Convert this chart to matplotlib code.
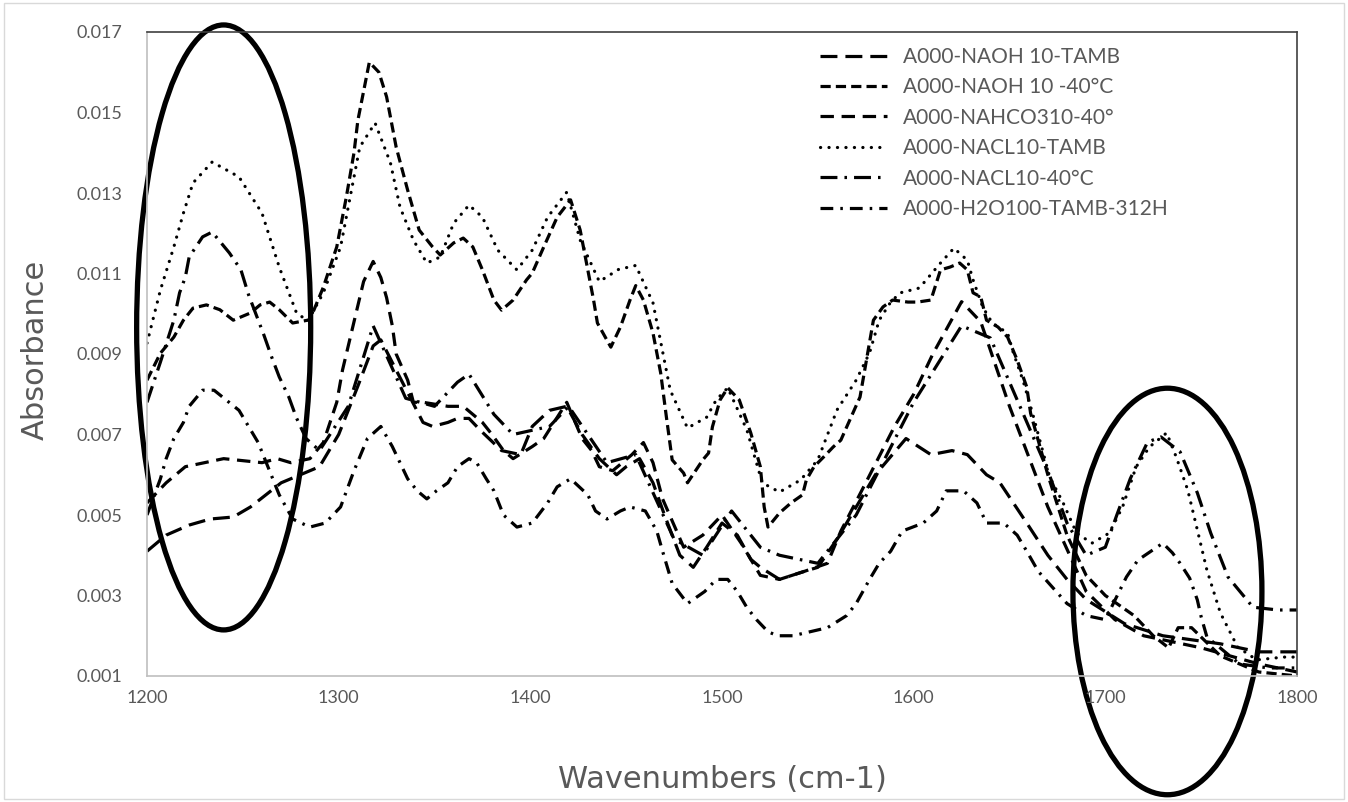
import matplotlib
matplotlib.use("Agg")
import matplotlib.pyplot as plt
from matplotlib.patches import Ellipse, Rectangle

# series (wavenumber, absorbance)
labels = ["A000-NAOH 10-TAMB", "A000-NAOH 10 -40°C", "A000-NAHCO310-40°",
          "A000-NACL10-TAMB", "A000-NACL10-40°C", "A000-H2O100-TAMB-312H"]

naoh_tamb_x = [1200, 1210, 1222, 1233, 1245, 1254, 1262, 1270, 1280, 1290, 1300, 1310, 1318, 1322, 1330,
               1344, 1349, 1357, 1362, 1368, 1374, 1385, 1395, 1401, 1410, 1419, 1427, 1436, 1445, 1450,
               1457, 1464, 1470, 1478, 1485, 1492, 1500, 1508, 1515, 1520, 1530, 1543, 1550, 1560, 1570,
               1580, 1596, 1609, 1620, 1628, 1638, 1645, 1652, 1659, 1670, 1680, 1690, 1700, 1710, 1730,
               1760, 1780, 1800]
naoh_tamb_y = [0.0041, 0.0045, 0.00475, 0.0049, 0.00495, 0.0052, 0.0055, 0.0058, 0.0060, 0.0062, 0.0070,
               0.0082, 0.0092, 0.00935, 0.0086, 0.0073, 0.0072, 0.0073, 0.0074, 0.0074, 0.0071, 0.0066,
               0.0065, 0.0072, 0.0076, 0.0077, 0.0070, 0.0064, 0.0060, 0.0062, 0.0064, 0.0058, 0.0050,
               0.0040, 0.0037, 0.0042, 0.0048, 0.0045, 0.0039, 0.0037, 0.0034, 0.0036, 0.0037, 0.0044,
               0.0052, 0.0060, 0.0069, 0.0065, 0.0066, 0.0065, 0.0060, 0.0058, 0.0053, 0.0048, 0.0040,
               0.0034, 0.0029, 0.0026, 0.0023, 0.0020, 0.0018, 0.0016, 0.0016]

naoh_40_x = [1200, 1207, 1214, 1219, 1224, 1231, 1238, 1245, 1254, 1259, 1264, 1269, 1276, 1285, 1292,
             1299, 1304, 1308, 1310, 1316, 1321, 1325, 1330, 1336, 1342, 1349, 1353, 1360, 1365, 1370,
             1375, 1381, 1385, 1391, 1398, 1401, 1407, 1414, 1421, 1426, 1433, 1435, 1442, 1447, 1452,
             1455, 1459, 1464, 1468, 1471, 1474, 1480, 1482, 1490, 1493, 1495, 1499, 1503, 1509, 1515,
             1520, 1522, 1524, 1530, 1536, 1542, 1544, 1548, 1553, 1558, 1562, 1572, 1579, 1584, 1589,
             1597, 1602, 1609, 1614, 1619, 1624, 1628, 1631, 1635, 1638, 1644, 1649, 1654, 1659, 1661,
             1670, 1680, 1690, 1700, 1715, 1725, 1733, 1738, 1745, 1760, 1780, 1800]
naoh_40_y = [0.00835, 0.00902, 0.00942, 0.00984, 0.01014, 0.01022, 0.0101, 0.00984, 0.01002, 0.01022,
             0.01029, 0.0101, 0.00977, 0.00985, 0.01066, 0.01166, 0.0129, 0.0140, 0.0148, 0.01625,
             0.0160, 0.01539, 0.01414, 0.01307, 0.01208, 0.01166, 0.01146, 0.01176, 0.01188, 0.01166,
             0.01109, 0.01034, 0.01009, 0.01034, 0.01084, 0.01101, 0.01166, 0.0124, 0.01283, 0.01208,
             0.01034, 0.00977, 0.00917, 0.00967, 0.01034, 0.0107, 0.01034, 0.00952, 0.00853, 0.00743,
             0.00637, 0.00604, 0.0058, 0.00637, 0.00654, 0.00719, 0.00786, 0.00816, 0.00786, 0.00704,
             0.0062, 0.0052, 0.0047, 0.00505, 0.0053, 0.0055, 0.00587, 0.0062, 0.00644, 0.00669,
             0.00686, 0.00793, 0.00984, 0.01017, 0.01034, 0.01029, 0.01029, 0.01034, 0.01109, 0.01116,
             0.01126, 0.01109, 0.01052, 0.01042, 0.00984, 0.00967, 0.00942, 0.00885, 0.00818, 0.00753,
             0.0060, 0.0045, 0.0035, 0.0030, 0.0025, 0.0020, 0.0017, 0.0022, 0.0022, 0.0015, 0.0011, 0.0010]

nahco3_x = [1200, 1210, 1220, 1240, 1260, 1268, 1275, 1285, 1292, 1299, 1302, 1306, 1310, 1313, 1318,
            1322, 1325, 1328, 1330, 1336, 1339, 1344, 1357, 1365, 1375, 1380, 1386, 1391, 1401, 1407,
            1419, 1427, 1432, 1436, 1443, 1453, 1459, 1464, 1469, 1480, 1490, 1500, 1510, 1520, 1530,
            1543, 1555, 1562, 1575, 1590, 1600, 1610, 1625, 1635, 1650, 1670, 1690, 1705, 1720, 1750,
            1780, 1800]
nahco3_y = [0.0053, 0.0058, 0.0062, 0.0064, 0.0063, 0.0064, 0.0063, 0.0064, 0.0068, 0.0078, 0.0086,
            0.0094, 0.0102, 0.0108, 0.0113, 0.0109, 0.0104, 0.0097, 0.0090, 0.00835, 0.0078, 0.0078,
            0.0077, 0.0077, 0.0073, 0.0070, 0.0066, 0.0064, 0.0067, 0.0069, 0.0078, 0.0069, 0.0066,
            0.0062, 0.0061, 0.0065, 0.0068, 0.0063, 0.0054, 0.0042, 0.0045, 0.0050, 0.0043, 0.0035,
            0.0034, 0.0036, 0.0038, 0.0046, 0.0058, 0.0072, 0.0080, 0.0090, 0.0103, 0.0098, 0.0077,
            0.0052, 0.0031, 0.0024, 0.0020, 0.0017, 0.0013, 0.0011]

nacl_tamb_x = [1200, 1207, 1214, 1219, 1224, 1234, 1248, 1260, 1269, 1278, 1284, 1292, 1301, 1307, 1311,
               1319, 1327, 1332, 1339, 1346, 1353, 1360, 1368, 1375, 1383, 1393, 1401, 1409, 1419, 1426,
               1436, 1446, 1455, 1464, 1473, 1482, 1492, 1497, 1503, 1513, 1521, 1530, 1541, 1550, 1560,
               1570, 1577, 1582, 1588, 1593, 1603, 1614, 1621, 1628, 1631, 1636, 1641, 1649, 1652, 1657,
               1662, 1671, 1678, 1685, 1693, 1702, 1709, 1716, 1723, 1732, 1737, 1743, 1748, 1753, 1760,
               1769, 1779, 1793, 1800]
nacl_tamb_y = [0.00927, 0.01059, 0.01166, 0.0125, 0.01325, 0.01377, 0.0134, 0.0125, 0.01116, 0.01002,
               0.00982, 0.01052, 0.01166, 0.01315, 0.01414, 0.01474, 0.01375, 0.01265, 0.01183, 0.01126,
               0.01141, 0.01225, 0.0127, 0.0124, 0.01158, 0.01109, 0.01158, 0.0124, 0.01302, 0.01183,
               0.0108, 0.0111, 0.0112, 0.01027, 0.0081, 0.00716, 0.00743, 0.00786, 0.00816, 0.00711,
               0.0058, 0.00557, 0.00587, 0.00637, 0.00761, 0.00835, 0.00903, 0.00984, 0.01029, 0.01052,
               0.01064, 0.01126, 0.01163, 0.01133, 0.01084, 0.01017, 0.00977, 0.00952, 0.00903, 0.00835,
               0.00753, 0.00594, 0.0053, 0.00455, 0.0043, 0.00455, 0.0052, 0.00619, 0.00669, 0.00704,
               0.00644, 0.00562, 0.00463, 0.00363, 0.00257, 0.00172, 0.0014, 0.00147, 0.00147]

nacl_40_x = [1200, 1207, 1214, 1217, 1220, 1222, 1229, 1234, 1243, 1249, 1253, 1261, 1265, 1269, 1274,
             1278, 1283, 1290, 1305, 1318, 1335, 1350, 1362, 1368, 1381, 1391, 1410, 1420, 1440, 1455,
             1475, 1490, 1505, 1520, 1530, 1550, 1570, 1600, 1625, 1640, 1670, 1680, 1690, 1700, 1706,
             1713, 1722, 1729, 1739, 1748, 1755, 1764, 1777, 1790, 1800]
nacl_40_y = [0.0078, 0.0088, 0.00984, 0.01052, 0.01091, 0.01141, 0.01191, 0.01203, 0.01151, 0.01109,
             0.01047, 0.00947, 0.00893, 0.00843, 0.00793, 0.00741, 0.0069, 0.0066, 0.0077, 0.0097,
             0.0079, 0.0077, 0.0083, 0.0085, 0.0075, 0.0070, 0.0072, 0.0077, 0.0063, 0.0065, 0.0044,
             0.0040, 0.0051, 0.0042, 0.0040, 0.0038, 0.0050, 0.0078, 0.0097, 0.0094, 0.0061, 0.0048,
             0.0040, 0.0042, 0.0050, 0.0059, 0.00681, 0.00694, 0.00657, 0.00555, 0.00455, 0.00346,
             0.00271, 0.00264, 0.00264]

h2o_x = [1200, 1207, 1210, 1214, 1219, 1222, 1229, 1235, 1248, 1258, 1269, 1276, 1285, 1293, 1301, 1308,
         1315, 1322, 1328, 1336, 1341, 1346, 1351, 1357, 1362, 1368, 1372, 1377, 1381, 1386, 1393, 1401,
         1409, 1414, 1421, 1430, 1434, 1440, 1447, 1452, 1460, 1466, 1469, 1474, 1482, 1491, 1497, 1503,
         1508, 1513, 1518, 1524, 1529, 1537, 1546, 1555, 1565, 1570, 1577, 1582, 1588, 1594, 1605, 1612,
         1617, 1626, 1633, 1638, 1647, 1654, 1659, 1665, 1680, 1690, 1700, 1711, 1717, 1730, 1735, 1739,
         1744, 1748, 1750, 1753, 1770, 1785, 1800]
h2o_y = [0.0050, 0.0059, 0.0064, 0.0069, 0.0073, 0.0077, 0.0081, 0.0081, 0.0076, 0.0068, 0.0055, 0.0049,
         0.0047, 0.0048, 0.0052, 0.0061, 0.0069, 0.0072, 0.0067, 0.0059, 0.0056, 0.0054, 0.0056, 0.0058,
         0.0062, 0.0064, 0.0063, 0.0059, 0.0056, 0.0050, 0.0047, 0.0048, 0.0053, 0.0057, 0.0059, 0.0055,
         0.0051, 0.0049, 0.0051, 0.0052, 0.0051, 0.0046, 0.0041, 0.0033, 0.0028, 0.0031, 0.0034, 0.0034,
         0.0031, 0.0027, 0.0024, 0.0021, 0.0020, 0.0020, 0.0021, 0.0022, 0.0025, 0.0028, 0.0034, 0.0038,
         0.0041, 0.0046, 0.0048, 0.0051, 0.0056, 0.0056, 0.0053, 0.0048, 0.0048, 0.0045, 0.0041, 0.0036,
         0.0028, 0.0025, 0.0024, 0.00346, 0.00388, 0.0043, 0.00406, 0.0038, 0.00343, 0.00289, 0.00247,
         0.00197, 0.0013, 0.0012, 0.0012]

series = [(naoh_tamb_x, naoh_tamb_y), (naoh_40_x, naoh_40_y), (nahco3_x, nahco3_y),
          (nacl_tamb_x, nacl_tamb_y), (nacl_40_x, nacl_40_y), (h2o_x, h2o_y)]

# dash patterns, in multiples of the line width
dashes = [(5.3, 2.5), (3.2, 1.6), (4.2, 2.4), (0.05, 2.6), (5.3, 2.2, 0.8, 2.2), (4.0, 2.2, 0.8, 2.2)]

gray = "#595959"
fig = plt.figure(figsize=(13.48, 8.02), dpi=100)
fig.patches.append(Rectangle((0.003, 0.004), 0.994, 0.992, transform=fig.transFigure,
                             fill=False, edgecolor="#d9d9d9", linewidth=1))
ax = fig.add_axes([147 / 1348, 1 - 676 / 802, 1150 / 1348, 644 / 802])

for (xs, ys), lab, d in zip(series, labels, dashes):
    line, = ax.plot(xs, ys, color="black", linewidth=2.3, label=lab)
    line.set_dashes(d)
    if d[0] < 0.1:
        line.set_dash_capstyle("round")

# the two hand-drawn ovals
ax.add_patch(Ellipse((1240, 0.00966), 90.8, 0.01503, fill=False, edgecolor="black",
                     linewidth=3.8, clip_on=False))
ax.add_patch(Ellipse((1732.4, 0.0031), 98.6, 0.0101, fill=False, edgecolor="black",
                     linewidth=3.8, clip_on=False))

ax.set_xlim(1200, 1800)
ax.set_ylim(0.001, 0.017)
ax.set_xticks([1200, 1300, 1400, 1500, 1600, 1700, 1800])
ax.set_yticks([0.001, 0.003, 0.005, 0.007, 0.009, 0.011, 0.013, 0.015, 0.017])
ax.set_yticklabels(["%.3f" % v for v in ax.get_yticks()])
ax.tick_params(length=0, labelsize=13, labelcolor=gray)
ax.tick_params(axis="y", pad=18)
ax.tick_params(axis="x", pad=10)
for t in ax.get_xticklabels() + ax.get_yticklabels():
    t.set_fontfamily(["Lato", "DejaVu Sans"])
for s in ["left", "bottom"]:
    ax.spines[s].set_color("#bfbfbf")
    ax.spines[s].set_linewidth(1.2)
for s in ["top", "right"]:
    ax.spines[s].set_color("#404040")
    ax.spines[s].set_linewidth(1.2)

fig.text(35 / 1348, 1 - 350 / 802, "Absorbance", rotation=90, ha="center", va="center",
         fontsize=22, color=gray, family=["Liberation Sans Narrow", "DejaVu Sans"])
fig.text(722 / 1348, 1 - 780 / 802, "Wavenumbers (cm-1)", ha="center", va="center",
         fontsize=22, color=gray, family=["DejaVu Sans"])

leg = ax.legend(loc="upper left", bbox_to_anchor=(0.569, 1.006), frameon=False, handlelength=3.2,
                labelspacing=0.5, prop={"family": ["Lato", "DejaVu Sans"], "size": 15})
for t in leg.get_texts():
    t.set_color(gray)

fig.savefig("out.png", dpi=100)
